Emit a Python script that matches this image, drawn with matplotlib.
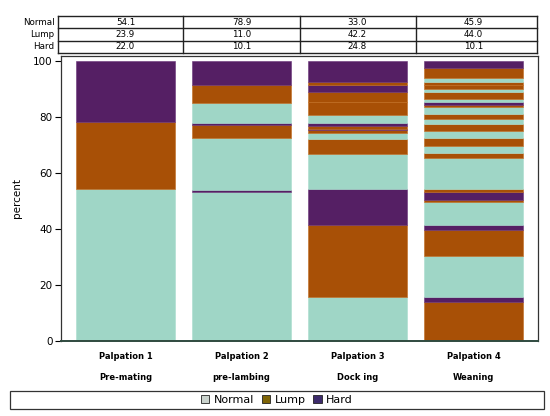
import matplotlib
matplotlib.use("Agg")
import matplotlib.pyplot as plt
import matplotlib.patches as mpatches
import numpy as np

# ---------------- data ----------------
categories = ["Palpation 1", "Palpation 2", "Palpation 3", "Palpation 4"]
subtitles = ["Pre-mating", "pre-lambing", "Dock ing", "Weaning"]
statuses = ["Normal", "Lump", "Hard"]

normal_pct = [54.1, 78.9, 33.0, 45.9]
lump_pct = [23.9, 11.0, 42.2, 44.0]
hard_pct = [22.0, 10.1, 24.8, 10.1]

# stacked segments (bottom -> top) for each palpation
seg_cats_p1 = ["Normal", "Lump", "Hard"]
seg_vals_p1 = [54.1, 23.9, 22.0]

seg_cats_p2 = ["Normal", "Hard", "Normal", "Lump", "Hard", "Normal", "Lump", "Hard"]
seg_vals_p2 = [53.2, 0.8, 18.5, 4.5, 0.8, 7.2, 6.5, 8.5]

seg_cats_p3 = ["Normal", "Lump", "Hard", "Normal", "Lump", "Normal", "Lump", "Hard",
               "Lump", "Hard", "Normal", "Lump", "Lump", "Hard", "Lump", "Hard"]
seg_vals_p3 = [15.6, 25.6, 12.9, 12.5, 5.5, 2.0, 1.0, 0.7,
               0.9, 1.0, 2.9, 4.5, 3.7, 2.5, 1.0, 7.7]

seg_cats_p4 = ["Lump", "Hard", "Normal", "Lump", "Hard", "Normal", "Lump", "Hard", "Lump",
               "Normal", "Lump", "Normal", "Lump", "Normal", "Lump", "Normal", "Lump", "Normal",
               "Lump", "Hard", "Normal", "Lump", "Normal", "Lump", "Lump", "Normal", "Lump", "Hard"]
seg_vals_p4 = [13.8, 1.9, 14.5, 9.2, 2.0, 8.0, 1.0, 2.7, 1.2,
               10.8, 1.9, 2.5, 2.9, 2.4, 2.6, 1.8, 1.8, 2.6,
               0.6, 0.9, 1.1, 2.7, 1.0, 1.3, 1.3, 1.2, 3.7, 2.6]

seg_cats = [seg_cats_p1, seg_cats_p2, seg_cats_p3, seg_cats_p4]
seg_vals = [seg_vals_p1, seg_vals_p2, seg_vals_p3, seg_vals_p4]

yticks = [0, 20, 40, 60, 80, 100]

# ---------------- style ----------------
bar_colors = {"Normal": "#9fd6c6", "Lump": "#a85006", "Hard": "#551f64"}
legend_colors = {"Normal": "#c9d2cc", "Lump": "#7e6406", "Hard": "#3d2b6c"}
edge_colors = {"Normal": "#a9dccd", "Lump": "#c06a1e", "Hard": "#6a3478"}

W, H = 550, 416
fig = plt.figure(figsize=(5.5, 4.16), dpi=100)
fig.patch.set_facecolor("white")

def fx(px):
    return px / W

def fy(py):
    return 1 - py / H

ax_l, ax_r, ax_t, ax_b = 61, 538, 56, 341
ax = fig.add_axes([fx(ax_l), fy(ax_b), fx(ax_r - ax_l), (ax_b - ax_t) / H])

x = np.arange(len(categories))
bar_w = 0.845
for i in range(len(categories)):
    vals = np.array(seg_vals[i])
    bottoms = np.concatenate([[0], np.cumsum(vals)[:-1]])
    for c, v, b in zip(seg_cats[i], vals, bottoms):
        ax.bar(x[i], v, bottom=b, width=bar_w, color=bar_colors[c],
               edgecolor=edge_colors[c], linewidth=0.4)

ax.set_xlim(-0.556, 3.556)
ax.set_ylim(-0.1, 101.7)
ax.set_yticks(yticks)
ax.set_yticklabels([str(t) for t in yticks], fontsize=7.5)
ax.tick_params(axis="y", direction="out", length=4, width=0.8, pad=2)
ax.set_xticks([])
ax.set_ylabel("percent", fontsize=7.5, labelpad=8)
for s in ax.spines.values():
    s.set_linewidth(0.9)
    s.set_color("#333333")
ax.spines["bottom"].set_color("#2f4a3f")
ax.spines["bottom"].set_linewidth(1.4)

# category labels
for i in range(len(categories)):
    ax.text(x[i], -5.8, categories[i], ha="center", va="center", fontsize=6,
            fontweight="semibold", transform=ax.transData, clip_on=False)
    ax.text(x[i], -13.2, subtitles[i], ha="center", va="center", fontsize=6,
            fontweight="semibold", transform=ax.transData, clip_on=False)

# ---------------- table at top ----------------
t_top, t_bot = 16, 53
tax = fig.add_axes([fx(58), fy(t_bot), fx(537 - 58), (t_bot - t_top) / H])
tax.set_xlim(-0.556 - 3 / 116, 3.556 - 1 / 116)
tax.set_ylim(0, 3)
tax.axis("off")
rows = [normal_pct, lump_pct, hard_pct]
xl, xr = tax.get_xlim()
lw = 1.0
for r in range(4):
    tax.plot([xl, xr], [r, r], color="#222222", lw=lw, clip_on=False)
bounds = [xl] + [i + 0.5 for i in range(len(categories) - 1)] + [xr]
for b in bounds:
    tax.plot([b, b], [0, 3], color="#222222", lw=lw, clip_on=False)
for r, (name, vals) in enumerate(zip(statuses, rows)):
    yy = 2.5 - r
    tax.text(xl - 0.03, yy, name, ha="right", va="center", fontsize=6.3)
    for i, v in enumerate(vals):
        tax.text(x[i], yy, f"{v:.1f}", ha="center", va="center", fontsize=6.3)

# ---------------- legend ----------------
leg_box = mpatches.Rectangle((fx(10), fy(409)), fx(544 - 10), (409 - 391) / H,
                             transform=fig.transFigure, facecolor="white",
                             edgecolor="#333333", linewidth=0.9)
fig.patches.append(leg_box)
handles = [mpatches.Patch(facecolor=legend_colors[s], edgecolor="#222222",
                          linewidth=0.6, label=s) for s in statuses]
fig.legend(handles=handles, loc="center", bbox_to_anchor=(fx(277), fy(400)),
           ncol=3, frameon=False, fontsize=8, handlelength=0.75,
           handleheight=0.75, handletextpad=0.4, columnspacing=0.7)

fig.savefig("out.png", dpi=100, facecolor="white")
